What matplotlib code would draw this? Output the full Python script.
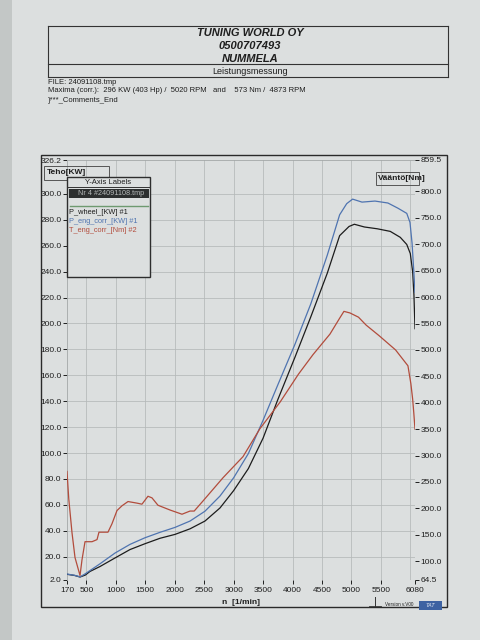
import matplotlib
matplotlib.use('Agg')
import matplotlib.pyplot as plt
from matplotlib.patches import Rectangle
from matplotlib.lines import Line2D

plt.rcParams['font.family'] = ['Liberation Sans', 'DejaVu Sans']

# ---------------- data ----------------
rpm_wheel = [170, 300, 391, 480, 560, 730, 985, 1240, 1494, 1749, 2004, 2259, 2513, 2768,
             3000, 3250, 3500, 3750, 4040, 4310, 4590, 4800, 4960, 5050, 5220, 5440, 5660,
             5830, 5940, 6000, 6040, 6062, 6080]
p_wheel = [6.4, 5.5, 4.3, 5.8, 8.6, 12.4, 19.0, 25.5, 30.0, 34.2, 37.2, 41.5, 47.5, 57.6,
           71.0, 88.0, 111.5, 141.2, 173.8, 205.1, 238.8, 267.8, 274.9, 276.6, 274.5, 273.1,
           271.1, 266.5, 261.0, 254.0, 240.0, 222.0, 196.0]

rpm_eng = [170, 300, 391, 476, 600, 730, 985, 1240, 1494, 1749, 2004, 2259, 2513, 2768,
           3000, 3250, 3500, 3750, 4040, 4310, 4590, 4800, 4920, 5020, 5180, 5400, 5620,
           5790, 5940, 5995, 6030, 6060, 6080]
p_eng = [6.6, 5.6, 4.4, 6.7, 10.5, 14.5, 22.8, 29.5, 34.6, 38.8, 42.6, 47.5, 55.1, 66.8,
         80.9, 99.6, 125.3, 152.6, 183.8, 215.1, 252.7, 283.9, 292.5, 296.0, 293.7, 294.5,
         293.0, 289.0, 285.0, 278.0, 262.0, 240.0, 224.0]

rpm_torque = [170, 200, 255, 306, 391, 425, 476, 595, 680, 713, 866, 934, 1019, 1104, 1206,
              1359, 1443, 1545, 1613, 1715, 1919, 2123, 2259, 2330, 2479, 2819, 3159, 3447,
              3787, 4100, 4347, 4636, 4800, 4873, 4975, 5120, 5250, 5470, 5750, 5960, 6010,
              6040, 6060, 6080]
t_eng = [270, 218, 154, 107, 73, 103, 137, 137, 141, 155, 155, 171, 196, 205, 213,
         210, 208, 223, 220, 206, 197, 189, 195, 195, 214, 258, 298, 351,
         401, 454, 491, 530, 560, 573, 570, 562, 547, 527, 500, 470, 436,
         407, 380, 350]

x_ticks = [170, 500, 1000, 1500, 2000, 2500, 3000, 3500, 4000, 4500, 5000, 5500, 6080]
x_grid = [500, 1000, 1500, 2000, 2500, 3000, 3500, 4000, 4500, 5000, 5500, 6000]
kw_ticks = [2.0, 20, 40, 60, 80, 100, 120, 140, 160, 180, 200, 220, 240, 260, 280, 300, 326.2]
nm_ticks = [64.5, 100, 150, 200, 250, 300, 350, 400, 450, 500, 550, 600, 650, 700, 750, 800, 859.5]

series_labels = ['P_wheel_[KW] #1', 'P_eng_corr_[KW] #1', 'T_eng_corr_[Nm] #2']
series_colors = ['#1c1c1c', '#4f74b0', '#b24c3c']

# ---------------- figure ----------------
W, H = 480, 640
BG = '#dcdfdf'
INK = '#1e1e1e'
fig = plt.figure(figsize=(W / 100, H / 100), dpi=100, facecolor=BG)


def fx(x):
    return x / W


def fy(y):
    return 1 - y / H


def ftext(x, y, s, **kw):
    kw.setdefault('color', INK)
    fig.text(fx(x), fy(y), s, **kw)


def hline(x0, x1, y, **kw):
    kw.setdefault('color', '#333333')
    kw.setdefault('lw', 0.8)
    fig.add_artist(Line2D([fx(x0), fx(x1)], [fy(y), fy(y)], transform=fig.transFigure, **kw))


def vline(x, y0, y1, **kw):
    kw.setdefault('color', '#333333')
    kw.setdefault('lw', 0.8)
    fig.add_artist(Line2D([fx(x), fx(x)], [fy(y0), fy(y1)], transform=fig.transFigure, **kw))


def rect(x0, y0, x1, y1, **kw):
    fig.add_artist(Rectangle((fx(x0), fy(y1)), fx(x1) - fx(x0), fy(y0) - fy(y1),
                             transform=fig.transFigure, **kw))


# darker paper edge on the left
rect(0, 0, 12, 640, facecolor='#c3c7c6', edgecolor='none', zorder=0)

# ---------------- header ----------------
hline(48, 448, 26)
vline(48, 26, 77)
vline(448, 26, 77)
hline(48, 448, 64)
hline(48, 448, 77)
ftext(250, 33, 'TUNING WORLD OY', ha='center', va='center', fontsize=8,
      fontweight='bold', fontstyle='italic')
ftext(250, 46, '0500707493', ha='center', va='center', fontsize=8,
      fontweight='bold', fontstyle='italic')
ftext(250, 59, 'NUMMELA', ha='center', va='center', fontsize=8,
      fontweight='bold', fontstyle='italic')
ftext(250, 71, 'Leistungsmessung', ha='center', va='center', fontsize=6.5)
ftext(48, 82, 'FILE: 24091108.tmp', ha='left', va='center', fontsize=5.5)
ftext(48, 91, 'Maxima (corr.):  296 KW (403 Hp) /  5020 RPM   and    573 Nm /  4873 RPM',
      ha='left', va='center', fontsize=5.5)
ftext(48, 100, '}***_Comments_End', ha='left', va='center', fontsize=5.5)

# ---------------- chart frame ----------------
rect(41, 155, 447, 607, fill=False, edgecolor='#2a2a2a', lw=1.0)

# ---------------- axes ----------------
ax = fig.add_axes([fx(67), fy(580), (415 - 67) / W, 420 / H])
ax.set_facecolor('none')
ax.set_xlim(170, 6080)
ax.set_ylim(kw_ticks[0], kw_ticks[-1])

grid_kw = dict(color='#b4b9b9', lw=0.55, zorder=0)
for g in x_grid:
    ax.axvline(g, **grid_kw)
for g in kw_ticks[1:-1]:
    ax.axhline(g, **grid_kw)

for side in ['bottom', 'right']:
    ax.spines[side].set_visible(False)
for side in ['left', 'top']:
    ax.spines[side].set_color('#a3a8a8')
    ax.spines[side].set_linewidth(0.6)

ax.set_xticks(x_ticks)
ax.set_xticklabels([str(v) for v in x_ticks])
ax.set_yticks(kw_ticks)
ax.set_yticklabels(['%.1f' % v for v in kw_ticks])
ax.tick_params(axis='y', direction='out', length=3, width=0.7, labelsize=6, pad=1,
               colors=INK)
ax.tick_params(axis='x', direction='out', length=3, width=0.7, labelsize=6, pad=2,
               colors=INK)

ax.plot(rpm_wheel, p_wheel, color=series_colors[0], lw=0.9, zorder=3)
ax.plot(rpm_eng, p_eng, color=series_colors[1], lw=0.9, zorder=3)

ax2 = ax.twinx()
ax2.set_ylim(nm_ticks[0], nm_ticks[-1])
for s in ax2.spines.values():
    s.set_visible(False)
ax2.set_yticks(nm_ticks)
ax2.set_yticklabels(['%.1f' % v for v in nm_ticks])
ax2.tick_params(axis='y', direction='out', length=3, width=0.7, labelsize=6, pad=1,
                colors=INK)
ax2.plot(rpm_torque, t_eng, color=series_colors[2], lw=0.9, zorder=3)

# axis captions
rect(44, 166, 109, 180, fill=False, edgecolor='#555555', lw=0.7, zorder=4)
ftext(47, 173, 'Teho[KW]', ha='left', va='center', fontsize=6, fontweight='bold', zorder=4)
rect(376, 172, 419, 185, fill=False, edgecolor='#555555', lw=0.7, zorder=4)
ftext(378, 178.5, 'Vääntö[Nm]', ha='left', va='center', fontsize=6, fontweight='bold',
      zorder=4)
ftext(241, 603, 'n  [1/min]', ha='center', va='center', fontsize=6, fontweight='bold')

# legend box
rect(67, 177, 150, 277, facecolor=BG, edgecolor='#2e2e2e', lw=1.0, zorder=5)
ftext(108.5, 182.5, 'Y-Axis Labels', ha='center', va='center', fontsize=5.5, zorder=6)
hline(67, 150, 187, lw=0.7, zorder=6)
rect(69, 189, 149, 198, facecolor='#2c2f2f', edgecolor='none', zorder=6)
ftext(78, 193.5, 'Nr 4 #24091108.tmp', ha='left', va='center', fontsize=5.2,
      color='#b5b9b9', zorder=7)
hline(70, 148, 205.5, color='#6e9a70', lw=1.0, zorder=6)
for i, (lab, col) in enumerate(zip(series_labels, series_colors)):
    ftext(69, 212.5 + 9 * i, lab, ha='left', va='center', fontsize=5.3, color=col, zorder=6)

# footer marks
vline(375, 597, 606, lw=0.7)
hline(369, 381, 606, lw=0.6)
ftext(385, 605, 'Version v.V00', ha='left', va='center', fontsize=3.3)
rect(419, 601, 442, 610, facecolor='#3d62a2', edgecolor='none')
ftext(430.5, 605.5, 'TAT', ha='center', va='center', fontsize=4, color='#dfe6f2',
      fontstyle='italic')

fig.savefig('out.png', dpi=100, facecolor=BG)
